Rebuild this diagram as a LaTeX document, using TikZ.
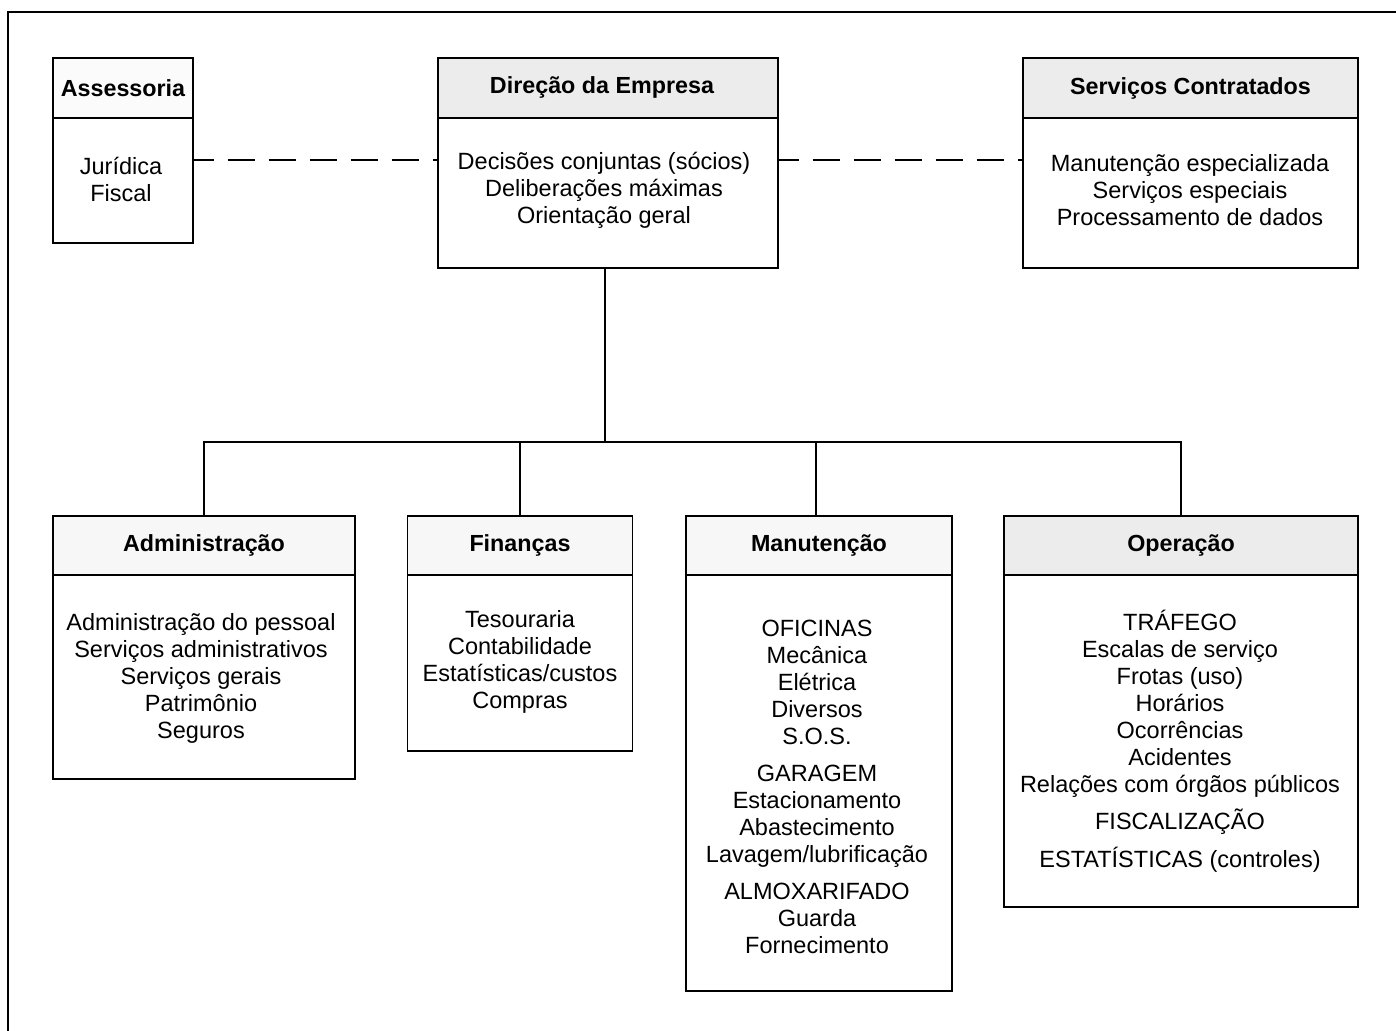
\documentclass[tikz,border=0pt]{standalone}
\usepackage{fontspec}
\setmainfont{Liberation Sans}
\begin{document}
\begin{tikzpicture}[x=1pt,y=-1pt,
  box/.style={draw, line width=1.4pt, rectangle, inner sep=0pt},
  hdr/.style={box, minimum height=60pt, anchor=north, font=\bfseries\fontsize{23.3}{27}\selectfont},
  body/.style={align=center, font=\fontsize{23.5}{27}\selectfont, inner sep=0pt},
  conn/.style={line width=1.4pt},
  dashconn/.style={line width=1.4pt, dash pattern=on 27pt off 14pt, dash phase=7pt}]
\useasboundingbox (0,0) rectangle (1396,1030);
\clip (0,0) rectangle (1396,1030);
% outer frame
\draw[line width=1.4pt] (8,1100) -- (8,12) -- (1450,12);
% top row
\node[box, minimum width=140pt, minimum height=185pt] (ass) at (123,150.5) {};
\node[hdr, fill=gray!3, minimum width=140pt] (assh) at (ass.north) {Assessoria};
\node[body] (assb) at (121,179) {Jurídica\\Fiscal};

\node[box, minimum width=340pt, minimum height=210pt] (dir) at (608,163) {};
\node[hdr, fill=gray!15, minimum width=340pt] (dirh) at (dir.north) {};
\node[font=\bfseries\fontsize{23.3}{27}\selectfont, inner sep=0pt] (dirt) at (602,87) {Direção da Empresa};
\node[body] (dirb) at (604,190) {Decisões conjuntas (sócios)\\Deliberações máximas\\Orientação geral};

\node[box, minimum width=335pt, minimum height=210pt] (srv) at (1190.5,163) {};
\node[hdr, fill=gray!15, minimum width=335pt] (srvh) at (srv.north) {Serviços Contratados};
\node[body] (srvb) at (1190,190) {Manutenção especializada\\Serviços especiais\\Processamento de dados};

% bottom row
\node[box, minimum width=302pt, minimum height=263pt] (adm) at (204,647.5) {};
\node[hdr, fill=gray!6, minimum width=302pt, minimum height=59pt] (admh) at (adm.north) {Administração};
\node[body] (admb) at (201,678) {Administração do pessoal\\Serviços administrativos\\Serviços gerais\\Patrimônio\\Seguros};

\node[box, minimum width=225pt, minimum height=235pt] (fin) at (520,633.5) {};
\node[hdr, fill=gray!6, minimum width=225pt, minimum height=59pt] (finh) at (fin.north) {Finanças};
\node[body] (finb) at (520,662) {Tesouraria\\Contabilidade\\Estatísticas/custos\\Compras};

\node[box, minimum width=266pt, minimum height=475pt] (man) at (819,753.5) {};
\node[hdr, fill=gray!6, minimum width=266pt, minimum height=59pt] (manh) at (man.north) {Manutenção};
\node[body] (manb) at (817,787) {OFICINAS\\Mecânica\\Elétrica\\Diversos\\S.O.S.\\[10pt]GARAGEM\\Estacionamento\\Abastecimento\\Lavagem/lubrificação\\[10pt]ALMOXARIFADO\\Guarda\\Fornecimento};

\node[box, minimum width=354pt, minimum height=391pt] (op) at (1181,711.5) {};
\node[hdr, fill=gray!15, minimum width=354pt, minimum height=59pt] (oph) at (op.north) {Operação};
\node[body] (opb) at (1180,741) {TRÁFEGO\\Escalas de serviço\\Frotas (uso)\\Horários\\Ocorrências\\Acidentes\\Relações com órgãos públicos\\[10pt]FISCALIZAÇÃO\\[11pt]ESTATÍSTICAS (controles)};

% connectors
\coordinate (bus) at (605,442);
\coordinate (dl) at (0,160);
\draw[conn] ([xshift=-3pt]dir.south) -- ([xshift=-3pt]dir.south |- bus);
\draw[conn] (adm.north) -- (adm.north |- bus) -- (op.north |- bus) -- (op.north);
\draw[conn] (fin.north) -- (fin.north |- bus);
\draw[conn] ([xshift=-3pt]man.north) -- ([xshift=-3pt]man.north |- bus);
\draw[dashconn] (ass.east |- dl) -- (dir.west |- dl);
\draw[dashconn] (dir.east |- dl) -- (srv.west |- dl);
\end{tikzpicture}
\end{document}
